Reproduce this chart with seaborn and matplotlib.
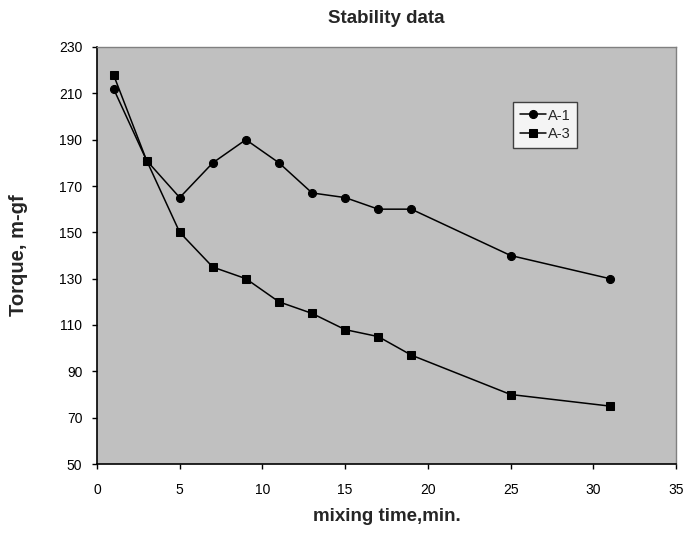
import matplotlib
matplotlib.use("Agg")
import matplotlib.pyplot as plt
import seaborn as sns
import pandas as pd

time_min = [1, 3, 5, 7, 9, 11, 13, 15, 17, 19, 25, 31]
a1_torque = [212, 181, 165, 180, 190, 180, 167, 165, 160, 160, 140, 130]
a3_torque = [218, 181, 150, 135, 130, 120, 115, 108, 105, 97, 80, 75]
series_names = ["A-1", "A-3"]
x_ticks = [0, 5, 10, 15, 20, 25, 30, 35]
y_ticks = [50, 70, 90, 110, 130, 150, 170, 190, 210, 230]

df = pd.DataFrame({
    "time": time_min * 2,
    "torque": a1_torque + a3_torque,
    "series": [series_names[0]] * len(time_min) + [series_names[1]] * len(time_min),
})

sns.set_theme(style="ticks")
plt.rcParams["font.family"] = ["Liberation Sans", "DejaVu Sans"]

W, H = 685, 533
L, R, T, B = 97, 676, 47, 464
fig = plt.figure(figsize=(W / 100, H / 100), dpi=100)
ax = fig.add_axes([L / W, 1 - B / H, (R - L) / W, (B - T) / H])
ax.set_facecolor("#c0c0c0")

sns.lineplot(data=df, x="time", y="torque", hue="series", style="series",
             palette=["black", "black"], markers={"A-1": "o", "A-3": "s"},
             dashes=False, markersize=5.8, linewidth=1.1, markeredgecolor="black",
             ax=ax)
for ln in ax.get_lines():
    if ln.get_marker() == "s":
        ln.set_markersize(5.2)

ax.set_xlim(0, 35)
ax.set_ylim(50, 230)
ax.set_xticks(x_ticks)
ax.set_yticks(y_ticks)
ax.tick_params(axis="both", direction="out", length=3.6, width=1, colors="black",
               labelsize=10)
ax.tick_params(axis="x", pad=10)
ax.tick_params(axis="y", pad=7)
for s in ["left", "bottom"]:
    ax.spines[s].set_color("black")
    ax.spines[s].set_linewidth(1.2)
for s in ["top", "right"]:
    ax.spines[s].set_color("#808080")
    ax.spines[s].set_linewidth(1.0)

ax.set_xlabel("mixing time,min.", fontsize=13.5, fontweight="bold", labelpad=8)
ax.set_ylabel("Torque, m-gf", fontsize=14.5, fontweight="bold", labelpad=22)
ax.set_title("Stability data", fontsize=13.5, fontweight="bold", pad=17)

leg = ax.legend(title=None, loc="upper left",
                bbox_to_anchor=((513 - L) / (R - L), 1 - (102 - T) / (B - T)),
                borderaxespad=0, fontsize=10.5, frameon=True, fancybox=False,
                handlelength=1.8, handletextpad=0.15, borderpad=0.45, labelspacing=0.3)
leg.get_frame().set_facecolor("#f4f4f4")
leg.get_frame().set_edgecolor("#404040")
leg.get_frame().set_linewidth(1.0)
leg.get_frame().set_alpha(1)

fig.savefig("out.png", dpi=100)
